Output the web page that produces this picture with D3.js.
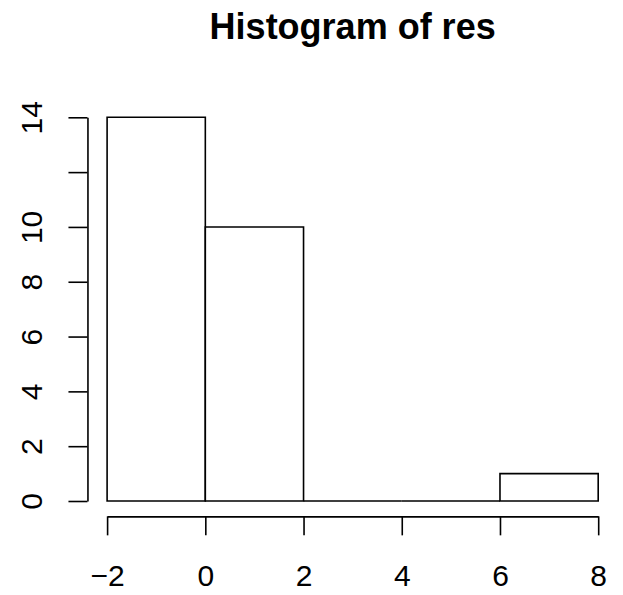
<!DOCTYPE html>
<html>
<head>
<meta charset="utf-8">
<script src="https://cdn.jsdelivr.net/npm/d3@7"></script>
<style>
  html, body { margin: 0; padding: 0; background: #fff; }
  svg { display: block; font-family: "Liberation Sans", Arial, sans-serif; }
</style>
</head>
<body>
<svg id="chart" width="623" height="595"></svg>
<script>
// Histogram bins and counts
const breaks = [-2, 0, 2, 4, 6, 8];
const counts = [14, 10, 0, 0, 1];
const xTicks = [-2, 0, 2, 4, 6, 8];
const yTicks = [0, 2, 4, 6, 8, 10, 12, 14];
// The 12 label is left out: it would crowd its neighbours
const yTickLabels = ["0", "2", "4", "6", "8", "10", "", "14"];
const title = "Histogram of res";

const svg = d3.select("#chart");
const ink = "#000";
const lw = 1.6;

const x = d3.scaleLinear().domain([-2, 8]).range([107.1, 598.2]);
const y = d3.scaleLinear().domain([0, 14]).range([501, 117.3]);

// Axis positions sit 4% outside the data range
const xAxisY = y(-0.56);
const yAxisX = x(-2.4);

// Bars (zero-height bins still draw as a line along the baseline)
const bins = counts.map((c, i) => ({ x0: breaks[i], x1: breaks[i + 1], count: c }));
svg.append("g").selectAll("path")
  .data(bins)
  .join("path")
  .attr("d", d => `M${x(d.x0)},${y(0)}V${y(d.count)}H${x(d.x1)}V${y(0)}Z`)
  .attr("fill", "#fff")
  .attr("stroke", ink)
  .attr("stroke-width", lw)
  .attr("stroke-linejoin", "miter");

// x axis
const gx = svg.append("g")
  .attr("transform", `translate(0,${xAxisY})`)
  .call(d3.axisBottom(x).tickValues(xTicks).tickSize(19).tickSizeOuter(0).tickPadding(29));
// y axis
const gy = svg.append("g")
  .attr("transform", `translate(${yAxisX},0)`)
  .call(d3.axisLeft(y).tickValues(yTicks)
    .tickFormat((d, i) => yTickLabels[i])
    .tickSize(19).tickSizeOuter(0));

[gx, gy].forEach(g => {
  g.selectAll("path.domain").attr("stroke", ink).attr("stroke-width", lw);
  g.selectAll(".tick line").attr("stroke", ink).attr("stroke-width", lw);
  g.selectAll(".tick text").attr("fill", ink).attr("font-size", 30)
    .attr("font-family", "'Liberation Sans', Arial, sans-serif");
});

gy.selectAll(".tick text")
  .attr("x", 0).attr("y", 0).attr("dy", 0)
  .attr("text-anchor", "middle")
  .attr("transform", "translate(-45.5,0) rotate(-90)");

// Title
svg.append("text")
  .attr("x", (x(-2.4) + x(8.4)) / 2)
  .attr("y", 38.5)
  .attr("text-anchor", "middle")
  .attr("font-size", 36)
  .attr("font-weight", "bold")
  .attr("fill", ink)
  .text(title);
</script>
</body>
</html>
